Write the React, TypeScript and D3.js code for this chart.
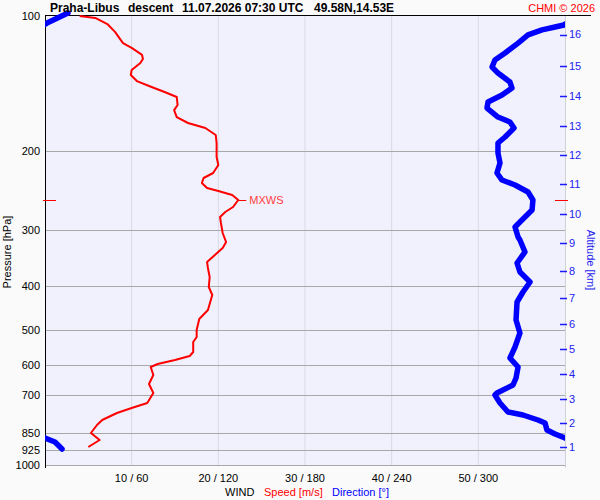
import * as d3 from "d3";

// wind speed profile [hPa, m/s]
const speedPressure = [100, 101.0, 104.2, 108.6, 114.9, 117.8, 122.1, 124.7, 127.3, 131.9, 135.3, 139.6, 143.9, 147.7, 151.5, 157.8, 162.0, 167.9, 173.1, 177.6, 184.1, 191.8, 206.1, 214.7, 223.7, 229.5, 235.5, 241.6, 245.3, 250.4, 256.9, 266.3, 273.2, 280.3, 289.1, 304.3, 318.7, 328.6, 340.6, 353.1, 364.1, 381.3, 401.4, 418.2, 451.6, 473.0, 500.4, 518.7, 532.2, 560.2, 571.8, 583.7, 595.7, 605.0, 630.3, 660.1, 691.2, 727.6, 746.5, 765.9, 793.9, 814.5, 848.7, 879.7, 911.9];
const speedValue = [4.0, 5.8, 7.2, 8.1, 9.0, 10.0, 11.2, 11.3, 11.0, 10.0, 9.9, 10.6, 12.3, 13.8, 15.2, 15.3, 14.9, 15.2, 16.5, 18.5, 19.7, 19.8, 19.8, 20.0, 19.4, 18.3, 18.1, 18.7, 20.0, 21.6, 22.3, 21.7, 20.8, 20.2, 20.3, 20.5, 20.9, 20.5, 19.6, 18.7, 18.8, 19.0, 18.9, 19.3, 18.8, 17.8, 17.5, 17.5, 17.1, 17.1, 16.7, 15.0, 13.0, 12.2, 12.5, 12.0, 12.5, 11.8, 10.0, 8.3, 6.6, 6.0, 5.3, 6.3, 5.0];

// wind direction profile [hPa, deg] (values > 360 wrap around)
const dirPressure = [98.5, 103.7, 104.7, 105.8, 107.4, 110.2, 114.9, 120.9, 125.3, 129.9, 134.0, 140.3, 144.7, 149.9, 155.4, 160.3, 167.9, 172.2, 177.6, 186.0, 191.8, 201.9, 212.5, 223.7, 231.9, 237.9, 246.6, 256.9, 270.4, 284.7, 295.1, 310.6, 315.4, 335.4, 354.9, 371.7, 391.2, 411.8, 433.5, 475.4, 508.1, 546.0, 577.7, 605.0, 640.1, 663.5, 691.2, 698.4, 727.6, 762.0, 773.8, 793.9, 806.2, 835.7, 853.0, 870.7, 888.7, 921.2];
const dirValue = [375.9, 361.4, 359.3, 353.1, 344.1, 334.4, 327.5, 318.5, 311.5, 309.5, 313.6, 321.9, 323.3, 316.4, 306.7, 306.0, 313.6, 321.9, 324.7, 318.5, 313.6, 313.6, 315.0, 312.9, 316.4, 325.4, 334.4, 337.8, 337.2, 330.2, 325.4, 327.5, 328.8, 332.3, 326.8, 328.8, 335.8, 330.9, 326.8, 326.1, 328.8, 325.4, 321.9, 327.5, 326.1, 324.0, 312.9, 311.5, 315.0, 320.5, 330.9, 341.3, 346.2, 347.5, 353.1, 360.0, 366.9, 371.8];

const pressureTicks = [100, 200, 300, 400, 500, 600, 700, 850, 925, 1000];
const speedTicks = [10, 20, 30, 40, 50];
const altitudeKm = [1, 2, 3, 4, 5, 6, 7, 8, 9, 10, 11, 12, 13, 14, 15, 16];
const altitudePressure = [912, 806, 713, 627, 551, 485, 425, 370, 320, 276, 237, 204, 176, 151, 129, 110];

const titleParts = ["Praha-Libus", "descent", "11.07.2026 07:30 UTC", "49.58N,14.53E"];
const titleX = [50, 128, 182, 314];

const W = 600, H = 500;
const L = 45, R = 565, T = 15, B = 465;
const font = "'Liberation Sans', Arial, sans-serif";

export default function App() {
  const y = d3.scaleLog().domain([100, 1000]).range([T + 1, B]);
  const xs = d3.scaleLinear().domain([0, 60]).range([L, R]);
  const xd = d3.scaleLinear().domain([0, 360]).range([L, R]);

  const speedPts = speedPressure.map((p, i) => ({ p, v: speedValue[i] }));
  const dirPts = dirPressure.map((p, i) => ({ p, v: dirValue[i] }));

  const speedLine = d3.line<{ p: number; v: number }>().x(d => xs(d.v)).y(d => y(d.p))(speedPts) || "";
  const dirLine = (shift: number) =>
    d3.line<{ p: number; v: number }>().x(d => xd(d.v - shift)).y(d => y(d.p))(dirPts) || "";

  const mi = d3.maxIndex(speedValue);
  const mxX = xs(speedValue[mi]);
  const mxY = y(speedPressure[mi]);

  return (
    <svg width={W} height={H} style={{ position: "absolute", left: 0, top: 0 }} fontFamily={font}>
      <defs>
        <clipPath id="plotclip">
          <rect x={L} y={0} width={R - L} height={H} />
        </clipPath>
      </defs>
      <rect x={0} y={0} width={W} height={H} fill="#fafafa" />
      <rect x={L} y={T} width={R - L} height={B - T} fill="#f1f1fd" />

      {speedTicks.map(t => (
        <line key={t} x1={xs(t)} x2={xs(t)} y1={T} y2={B} stroke="#d9d9e3" strokeWidth={1} />
      ))}
      <line x1={R + 0.5} x2={R + 0.5} y1={T} y2={B + 3} stroke="#d0d0d8" />
      {pressureTicks.slice(1).map(p => (
        <line key={p} x1={L} x2={R} y1={Math.round(y(p)) + 0.5} y2={Math.round(y(p)) + 0.5} stroke="#a8a8a8" />
      ))}

      <line x1={L} x2={591} y1={T + 0.5} y2={T + 0.5} stroke="#000" />
      <line x1={L + 0.5} x2={L + 0.5} y1={T} y2={B + 3} stroke="#000" />

      {pressureTicks.map(p => (
        <text key={p} x={40} y={y(p)} dy="0.35em" textAnchor="end" fontSize={11} fill="#000">{p}</text>
      ))}
      <text transform={`translate(11,${(T + B) / 2 + 12}) rotate(-90)`} textAnchor="middle" fontSize={11} fill="#000">Pressure [hPa]</text>

      {altitudeKm.map((a, i) => (
        <g key={a}>
          <line x1={560} x2={567} y1={Math.round(y(altitudePressure[i])) + 0.5} y2={Math.round(y(altitudePressure[i])) + 0.5} stroke="#1a1aff" strokeWidth={1.5} />
          <text x={569} y={y(altitudePressure[i])} dy="0.35em" fontSize={11} fill="#2222ee">{a}</text>
        </g>
      ))}
      <text transform={`translate(587,${(T + B) / 2 + 20}) rotate(90)`} textAnchor="middle" fontSize={11} fill="#2222ee">Altitude [km]</text>

      {speedTicks.map(t => (
        <text key={t} x={xs(t)} y={482} textAnchor="middle" fontSize={11} fill="#000">{`${t} / ${t * 6}`}</text>
      ))}
      <text x={225} y={496} fontSize={11} fill="#000">WIND</text>
      <text x={264} y={496} fontSize={11} fill="#ff0000">Speed [m/s]</text>
      <text x={332} y={496} fontSize={11} fill="#0000ff">Direction [°]</text>

      <g clipPath="url(#plotclip)">
        <path d={dirLine(0)} fill="none" stroke="#0000ff" strokeWidth={5.5} strokeLinejoin="round" strokeLinecap="round" />
        <path d={dirLine(360)} fill="none" stroke="#0000ff" strokeWidth={5.5} strokeLinejoin="round" strokeLinecap="round" />
      </g>
      <path d={speedLine} fill="none" stroke="#ff0000" strokeWidth={2} strokeLinejoin="round" />

      <line x1={43} x2={56} y1={Math.round(mxY) + 0.5} y2={Math.round(mxY) + 0.5} stroke="#ff0000" />
      <line x1={555} x2={568} y1={Math.round(mxY) + 0.5} y2={Math.round(mxY) + 0.5} stroke="#ff0000" />
      <line x1={mxX} x2={mxX + 8} y1={Math.round(mxY) + 0.5} y2={Math.round(mxY) + 0.5} stroke="#ff0000" />
      <text x={mxX + 11} y={mxY} dy="0.35em" fontSize={11} fill="#ff4040">MXWS</text>

      {titleParts.map((t, i) => (
        <text key={t} x={titleX[i]} y={12} fontSize={12} fontWeight="bold" fill="#000">{t}</text>
      ))}
      <text x={595} y={12} textAnchor="end" fontSize={11} fill="#ff0000">CHMI © 2026</text>
    </svg>
  );
}
